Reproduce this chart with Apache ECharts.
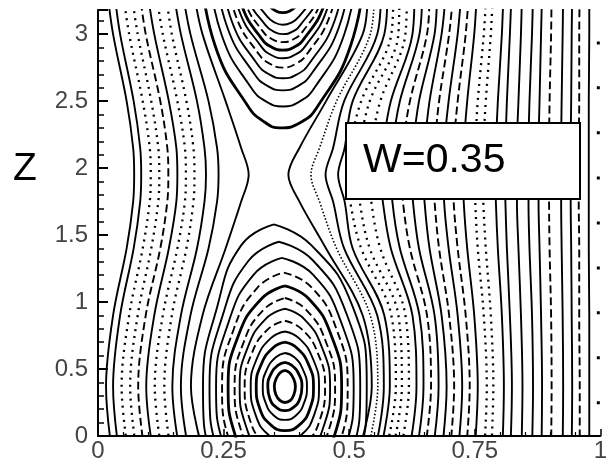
<!DOCTYPE html>
<html>
<head>
<meta charset="utf-8">
<script src="https://cdn.jsdelivr.net/npm/echarts@6/dist/echarts.min.js"></script>
<style>html,body{margin:0;background:#fff}#chart{width:610px;height:466px}</style>
</head>
<body>
<div id="chart"></div>
<script>
var zLevels = [-0.1, 0.37, 0.9, 1.4, 1.75, 1.95, 2.15, 2.5, 3.0, 3.3];

// open lines left of the X point (x at each z level)
var leftLines = [
    [0.027, 0.016, 0.030, 0.057, 0.070, 0.072, 0.070, 0.057, 0.030, 0.019],
    [0.041, 0.030, 0.044, 0.071, 0.084, 0.086, 0.084, 0.071, 0.044, 0.033],
    [0.059, 0.047, 0.062, 0.089, 0.103, 0.105, 0.103, 0.089, 0.062, 0.050],
    [0.076, 0.064, 0.079, 0.106, 0.120, 0.122, 0.120, 0.106, 0.079, 0.067],
    [0.092, 0.080, 0.095, 0.124, 0.138, 0.140, 0.138, 0.124, 0.095, 0.083],
    [0.109, 0.096, 0.112, 0.141, 0.156, 0.158, 0.156, 0.141, 0.112, 0.099],
    [0.126, 0.113, 0.129, 0.158, 0.173, 0.175, 0.173, 0.158, 0.129, 0.116],
    [0.144, 0.132, 0.147, 0.176, 0.190, 0.192, 0.190, 0.176, 0.147, 0.135],
    [0.162, 0.148, 0.165, 0.197, 0.212, 0.215, 0.212, 0.197, 0.165, 0.151],
    [0.180, 0.165, 0.184, 0.220, 0.237, 0.240, 0.237, 0.220, 0.184, 0.169],
    [0.208, 0.185, 0.208, 0.254, 0.285, 0.300, 0.285, 0.254, 0.208, 0.191]
];
var leftKinds = ['solid', 'solid', 'dot', 'dot', 'dash', 'solid', 'dot', 'dot', 'solid', 'solid', 'solid'];

// open lines right of the X point
var rightLines = [
    [0.520, 0.545, 0.527, 0.454, 0.401, 0.379, 0.401, 0.454, 0.527, 0.537],
    [0.537, 0.557, 0.542, 0.475, 0.441, 0.424, 0.441, 0.475, 0.542, 0.550],
    [0.552, 0.569, 0.556, 0.490, 0.468, 0.453, 0.468, 0.490, 0.556, 0.563],
    [0.563, 0.581, 0.570, 0.507, 0.491, 0.478, 0.491, 0.507, 0.570, 0.576],
    [0.574, 0.593, 0.584, 0.524, 0.502, 0.498, 0.502, 0.524, 0.584, 0.588],
    [0.587, 0.605, 0.598, 0.541, 0.521, 0.518, 0.521, 0.541, 0.598, 0.600],
    [0.603, 0.619, 0.612, 0.562, 0.544, 0.541, 0.544, 0.562, 0.612, 0.615],
    [0.620, 0.634, 0.626, 0.583, 0.567, 0.564, 0.567, 0.583, 0.626, 0.630],
    [0.635, 0.648, 0.640, 0.601, 0.586, 0.584, 0.586, 0.601, 0.640, 0.645],
    [0.651, 0.663, 0.655, 0.621, 0.607, 0.605, 0.607, 0.621, 0.655, 0.660],
    [0.667, 0.678, 0.670, 0.639, 0.627, 0.625, 0.627, 0.639, 0.670, 0.675],
    [0.685, 0.694, 0.684, 0.660, 0.650, 0.648, 0.650, 0.660, 0.684, 0.692],
    [0.701, 0.709, 0.699, 0.679, 0.670, 0.668, 0.670, 0.679, 0.699, 0.707],
    [0.717, 0.725, 0.716, 0.698, 0.689, 0.688, 0.689, 0.698, 0.716, 0.723],
    [0.733, 0.740, 0.732, 0.716, 0.708, 0.707, 0.708, 0.716, 0.732, 0.738],
    [0.750, 0.756, 0.749, 0.735, 0.728, 0.727, 0.728, 0.735, 0.749, 0.754],
    [0.769, 0.774, 0.768, 0.756, 0.751, 0.750, 0.751, 0.756, 0.768, 0.773],
    [0.783, 0.787, 0.782, 0.772, 0.767, 0.766, 0.767, 0.772, 0.782, 0.786],
    [0.805, 0.808, 0.804, 0.796, 0.792, 0.791, 0.792, 0.796, 0.804, 0.807],
    [0.821, 0.824, 0.820, 0.814, 0.811, 0.810, 0.811, 0.814, 0.820, 0.823],
    [0.843, 0.845, 0.842, 0.837, 0.834, 0.834, 0.834, 0.837, 0.842, 0.844],
    [0.864, 0.866, 0.864, 0.859, 0.857, 0.857, 0.857, 0.859, 0.864, 0.866],
    [0.883, 0.884, 0.882, 0.879, 0.877, 0.877, 0.877, 0.879, 0.882, 0.884],
    [0.902, 0.903, 0.902, 0.899, 0.898, 0.898, 0.898, 0.899, 0.902, 0.903],
    [0.925, 0.926, 0.925, 0.923, 0.922, 0.922, 0.922, 0.923, 0.925, 0.926],
    [0.943, 0.944, 0.943, 0.942, 0.941, 0.941, 0.941, 0.942, 0.943, 0.944],
    [0.959, 0.959, 0.958, 0.958, 0.957, 0.957, 0.957, 0.958, 0.958, 0.959],
    [0.978, 0.978, 0.978, 0.977, 0.977, 0.977, 0.977, 0.977, 0.978, 0.978],
    [0.996, 0.996, 0.996, 0.996, 0.996, 0.996, 0.996, 0.996, 0.996, 0.996]
];
var rightKinds = ['solid', 'fine', 'solid', 'solid', 'dot', 'dot', 'dot', 'solid', 'solid', 'dash',
    'solid', 'solid', 'dash', 'solid', 'dash', 'solid', 'dot', 'dot', 'solid', 'solid',
    'solid', 'solid', 'solid', 'dash', 'solid', 'solid', 'dash', 'solid', 'sparse'];

// closed orbits round the lower O point (bottom ones are cut by z=0)
var lowerRingX = [
    [0.372, 0.381, 0.389, 0.393, 0.390, 0.383, 0.372, 0.362, 0.354, 0.351, 0.355, 0.363],
    [0.372, 0.386, 0.400, 0.406, 0.402, 0.389, 0.372, 0.355, 0.342, 0.338, 0.344, 0.358],
    [0.372, 0.391, 0.408, 0.416, 0.410, 0.394, 0.372, 0.350, 0.334, 0.328, 0.336, 0.354],
    [0.372, 0.396, 0.419, 0.429, 0.422, 0.401, 0.372, 0.344, 0.322, 0.315, 0.325, 0.348],
    [0.372, 0.401, 0.428, 0.440, 0.431, 0.406, 0.372, 0.338, 0.313, 0.304, 0.316, 0.343],
    [0.372, 0.406, 0.438, 0.452, 0.442, 0.412, 0.372, 0.332, 0.302, 0.292, 0.306, 0.338],
    [0.372, 0.410, 0.446, 0.462, 0.450, 0.417, 0.372, 0.327, 0.294, 0.282, 0.298, 0.334],
    [0.372, 0.414, 0.454, 0.472, 0.459, 0.422, 0.372, 0.322, 0.285, 0.272, 0.290, 0.330],
    [0.372, 0.420, 0.465, 0.485, 0.470, 0.429, 0.372, 0.316, 0.274, 0.259, 0.279, 0.325],
    [0.370, 0.425, 0.475, 0.497, 0.481, 0.435, 0.372, 0.310, 0.263, 0.247, 0.270, 0.318],
    [0.366, 0.428, 0.484, 0.509, 0.491, 0.441, 0.372, 0.304, 0.253, 0.235, 0.260, 0.310],
    [0.360, 0.428, 0.495, 0.522, 0.503, 0.447, 0.372, 0.297, 0.242, 0.222, 0.249, 0.300],
    [0.350, 0.425, 0.506, 0.535, 0.514, 0.454, 0.372, 0.291, 0.230, 0.209, 0.238, 0.285]
];
var lowerRingZ = [
    [0.49, 0.474, 0.43, 0.37, 0.31, 0.266, 0.25, 0.266, 0.31, 0.37, 0.43, 0.474],
    [0.55, 0.527, 0.46, 0.37, 0.28, 0.213, 0.19, 0.213, 0.28, 0.37, 0.46, 0.527],
    [0.62, 0.588, 0.495, 0.37, 0.245, 0.153, 0.12, 0.153, 0.245, 0.37, 0.495, 0.588],
    [0.70, 0.657, 0.535, 0.37, 0.205, 0.083, 0.04, 0.083, 0.205, 0.37, 0.535, 0.657],
    [0.78, 0.727, 0.575, 0.37, 0.165, 0.013, -0.04, 0.013, 0.165, 0.37, 0.575, 0.727],
    [0.86, 0.796, 0.615, 0.37, 0.125, -0.056, -0.12, -0.056, 0.125, 0.37, 0.615, 0.796],
    [0.95, 0.875, 0.66, 0.37, 0.08, -0.135, -0.21, -0.135, 0.08, 0.37, 0.66, 0.875],
    [1.03, 0.944, 0.70, 0.37, 0.04, -0.204, -0.29, -0.204, 0.04, 0.37, 0.70, 0.944],
    [1.12, 1.023, 0.745, 0.37, -0.005, -0.283, -0.38, -0.283, -0.005, 0.37, 0.745, 1.023],
    [1.22, 1.110, 0.795, 0.37, -0.055, -0.370, -0.48, -0.370, -0.055, 0.37, 0.795, 1.110],
    [1.33, 1.205, 0.85, 0.37, -0.11, -0.465, -0.59, -0.465, -0.11, 0.37, 0.85, 1.205],
    [1.45, 1.31, 0.91, 0.37, -0.17, -0.57, -0.71, -0.57, -0.17, 0.37, 0.91, 1.31],
    [1.58, 1.423, 0.975, 0.37, -0.235, -0.683, -0.84, -0.683, -0.235, 0.37, 0.975, 1.423]
];
var lowerKinds = ['thick', 'thick', 'solid', 'thick', 'solid', 'dash', 'solid', 'dash', 'thick', 'dash', 'solid', 'solid', 'solid'];

// lower parts of the orbits round the upper O point (cut by the top edge)
var topArcX = [
    [0.306, 0.317, 0.342, 0.354, 0.368, 0.382, 0.394, 0.419, 0.430],
    [0.293, 0.307, 0.337, 0.352, 0.368, 0.385, 0.400, 0.430, 0.443],
    [0.284, 0.299, 0.333, 0.350, 0.368, 0.387, 0.403, 0.437, 0.452],
    [0.276, 0.293, 0.329, 0.348, 0.368, 0.388, 0.407, 0.443, 0.460],
    [0.269, 0.287, 0.326, 0.346, 0.368, 0.390, 0.410, 0.449, 0.467],
    [0.262, 0.281, 0.324, 0.345, 0.368, 0.391, 0.413, 0.455, 0.474],
    [0.253, 0.274, 0.320, 0.343, 0.368, 0.393, 0.416, 0.462, 0.483],
    [0.243, 0.266, 0.316, 0.341, 0.368, 0.396, 0.421, 0.471, 0.493],
    [0.232, 0.257, 0.311, 0.338, 0.368, 0.398, 0.425, 0.480, 0.504],
    [0.219, 0.246, 0.305, 0.335, 0.368, 0.401, 0.431, 0.490, 0.517],
    [0.203, 0.233, 0.299, 0.332, 0.362, 0.404, 0.437, 0.503, 0.533]
];
var topArcZ = [
    [3.53, 3.345, 3.208, 3.173, 3.16, 3.173, 3.208, 3.345, 3.53],
    [3.53, 3.30, 3.13, 3.086, 3.07, 3.086, 3.13, 3.30, 3.53],
    [3.53, 3.265, 3.069, 3.018, 3.0, 3.018, 3.069, 3.265, 3.53],
    [3.53, 3.235, 3.017, 2.96, 2.94, 2.96, 3.017, 3.235, 3.53],
    [3.53, 3.205, 2.965, 2.902, 2.88, 2.902, 2.965, 3.205, 3.53],
    [3.53, 3.175, 2.912, 2.844, 2.82, 2.844, 2.912, 3.175, 3.53],
    [3.53, 3.14, 2.851, 2.777, 2.75, 2.777, 2.851, 3.14, 3.53],
    [3.53, 3.10, 2.782, 2.699, 2.67, 2.699, 2.782, 3.10, 3.53],
    [3.53, 3.055, 2.704, 2.612, 2.58, 2.612, 2.704, 3.055, 3.53],
    [3.53, 2.995, 2.599, 2.496, 2.46, 2.496, 2.599, 2.995, 3.53],
    [3.53, 2.915, 2.46, 2.342, 2.30, 2.342, 2.46, 2.915, 3.53]
];
var topKinds = ['thick', 'solid', 'solid', 'dash', 'thick', 'solid', 'dash', 'solid', 'solid', 'solid', 'thick'];

var xTicks = [0, 0.25, 0.5, 0.75, 1];
var zTicks = [0, 0.5, 1, 1.5, 2, 2.5, 3];

// line looks
var kindStyle = {
    thick:  { width: 2.8, type: 'solid' },
    solid:  { width: 1.9, type: 'solid' },
    dash:   { width: 1.9, type: [8, 4] },
    dot:    { width: 2.3, type: [2, 5] },
    fine:   { width: 1.6, type: [1.5, 2] },
    sparse: { width: 3, type: [3, 42] }
};

function makeSeries(points, kind, smooth) {
    var st = kindStyle[kind];
    return {
        type: 'line',
        data: points,
        showSymbol: false,
        smooth: smooth,
        silent: true,
        clip: true,
        animation: false,
        lineStyle: { color: '#000', width: st.width, type: st.type, cap: 'butt' }
    };
}

var series = [];
leftLines.forEach(function(xs, i) {
    series.push(makeSeries(xs.map(function(x, k) { return [x, zLevels[k]]; }), leftKinds[i], 0.35));
});
rightLines.forEach(function(xs, i) {
    series.push(makeSeries(xs.map(function(x, k) { return [x, zLevels[k]]; }), rightKinds[i], 0.35));
});
lowerRingX.forEach(function(xs, i) {
    var pts = xs.map(function(x, k) { return [x, lowerRingZ[i][k]]; });
    pts.push(pts[0]);
    series.push(makeSeries(pts, lowerKinds[i], 0.5));
});
topArcX.forEach(function(xs, i) {
    series.push(makeSeries(xs.map(function(x, k) { return [x, topArcZ[i][k]]; }), topKinds[i], 0.5));
});

var labelFont = { fontSize: 24, color: '#444', fontFamily: 'Liberation Sans, Arial, sans-serif' };

var chart = echarts.init(document.getElementById('chart'));
chart.setOption({
    backgroundColor: '#fff',
    animation: false,
    grid: { left: 98, right: 0, top: 10, bottom: 30 },
    xAxis: {
        type: 'value', min: xTicks[0], max: xTicks[xTicks.length - 1], interval: 0.25,
        axisLine: { onZero: false, lineStyle: { color: '#000', width: 2 } },
        axisTick: { inside: true, length: 7, lineStyle: { color: '#000', width: 1.5 } },
        minorTick: { show: true, splitNumber: 5, length: 4, lineStyle: { color: '#000', width: 1.2 } },
        axisLabel: Object.assign({ margin: 3 }, labelFont),
        splitLine: { show: false }
    },
    yAxis: {
        type: 'value', min: zTicks[0], max: 3.18, interval: 0.5,
        axisLine: { show: true, onZero: false, lineStyle: { color: '#000', width: 2 } },
        axisTick: { show: true, inside: true, length: 10, lineStyle: { color: '#000', width: 2 } },
        minorTick: { show: true, splitNumber: 5, length: 6, lineStyle: { color: '#000', width: 1.5 } },
        axisLabel: Object.assign({ margin: 10, showMaxLabel: false }, labelFont),
        splitLine: { show: false }
    },
    graphic: [
        { type: 'text', left: 13, top: 150, z: 100,
          style: { text: 'Z', fontSize: 39, fill: '#000', fontFamily: 'Liberation Sans, Arial, sans-serif' } },
        { type: 'rect', z: 100, shape: { x: 346, y: 123, width: 234, height: 76 },
          style: { fill: '#fff', stroke: '#000', lineWidth: 2 } },
        { type: 'text', z: 101, x: 363, y: 161,
          style: { text: 'W=0.35', fontSize: 41, fill: '#000', verticalAlign: 'middle',
                   fontFamily: 'Liberation Sans, Arial, sans-serif' } }
    ],
    series: series
});
</script>
</body>
</html>
